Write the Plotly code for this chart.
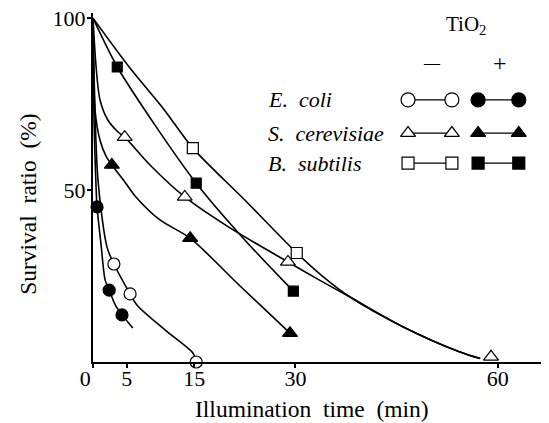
import plotly.graph_objects as go

# ---------------- data (time in min, survival ratio in %) ----------------
x_ticks = [0, 5, 15, 30, 60]
x_ticktext = ["0\u2002\u2009", "5", "15", "30", "60"]
y_ticks = [50, 100]

# measured points
ecoli_minus_t = [3.1, 5.5, 15.3]
ecoli_minus_s = [28.5, 19.8, 0.0]
ecoli_plus_t = [0.6, 2.4, 4.3]
ecoli_plus_s = [45.1, 20.9, 13.7]
scer_minus_t = [4.7, 13.6, 28.9, 59.0]
scer_minus_s = [65.4, 48.0, 29.1, 1.5]
scer_plus_t = [2.8, 14.4, 29.2]
scer_plus_s = [57.3, 36.0, 8.4]
bsub_minus_t = [14.8, 30.2]
bsub_minus_s = [62.2, 31.7]
bsub_plus_t = [3.6, 15.3, 29.7]
bsub_plus_s = [85.8, 52.0, 20.6]

# hand-drawn survival curves
ecoli_minus_curve_t = [0, 0.74, 2.08, 3.1, 5.5, 6.5, 10.7, 14.7, 15.3]
ecoli_minus_curve_s = [100, 52.9, 33.4, 28.5, 19.8, 16.6, 9.3, 2.9, 0.6]
ecoli_plus_curve_t = [0, 0.15, 0.44, 0.6, 1.2, 1.8, 2.4, 3.3, 4.3, 5.9]
ecoli_plus_curve_s = [100, 70.3, 51.5, 45.1, 34.0, 23.8, 20.9, 16.6, 13.7, 9.9]
scer_minus_curve_t = [0, 0.44, 1.04, 2.22, 3.71, 4.7, 8.45, 13.6, 20.3, 28.9, 33.5, 38.1, 46.0, 54.4, 57.4]
scer_minus_curve_s = [100, 86.3, 76.2, 70.3, 66.9, 65.4, 57.3, 48.0, 39.0, 29.1, 23.9, 18.9, 10.2, 2.9, 1.0]
scer_plus_curve_t = [0, 0.07, 0.30, 1.04, 1.93, 2.8, 4.74, 6.23, 9.93, 14.4, 21.8, 29.2]
scer_plus_curve_s = [100, 87.8, 73.3, 64.5, 59.9, 57.3, 52.3, 48.3, 41.3, 36.0, 22.1, 8.4]
bsub_minus_curve_t = [0, 5.48, 10.38, 14.8, 22.5, 30.2, 34.0, 38.1, 46.0, 54.4, 57.4]
bsub_minus_curve_s = [100, 85.5, 73.8, 62.2, 47.1, 31.7, 25.0, 18.9, 10.2, 2.9, 1.0]
bsub_plus_curve_t = [0, 3.6, 9.19, 15.3, 22.5, 29.7]
bsub_plus_curve_s = [100, 85.8, 68.9, 52.0, 35.5, 20.6]

species = ["E.  coli", "S.  cerevisiae", "B.  subtilis"]
legend_header = ["TiO<sub>2</sub>", "\u2014", "+"]

FONT = "Liberation Serif"
BLACK = "black"

fig = go.Figure()

curves = [
    (ecoli_minus_curve_t, ecoli_minus_curve_s),
    (ecoli_plus_curve_t, ecoli_plus_curve_s),
    (scer_minus_curve_t, scer_minus_curve_s),
    (scer_plus_curve_t, scer_plus_curve_s),
    (bsub_minus_curve_t, bsub_minus_curve_s),
    (bsub_plus_curve_t, bsub_plus_curve_s),
]
for t, s in curves:
    fig.add_trace(go.Scatter(x=t, y=s, mode="lines",
                             line=dict(color=BLACK, width=1.6, shape="spline", smoothing=0.8),
                             hoverinfo="skip", showlegend=False, cliponaxis=False))

markers = [
    (ecoli_minus_t, ecoli_minus_s, "circle", "white", 12),
    (ecoli_plus_t, ecoli_plus_s, "circle", BLACK, 12),
    (scer_minus_t, scer_minus_s, "triangle-up", "white", 13),
    (scer_plus_t, scer_plus_s, "triangle-up", BLACK, 13),
    (bsub_minus_t, bsub_minus_s, "square", "white", 11),
    (bsub_plus_t, bsub_plus_s, "square", BLACK, 10),
]
for t, s, sym, fill, size in markers:
    fig.add_trace(go.Scatter(x=t, y=s, mode="markers",
                             marker=dict(symbol=sym, color=fill, size=size,
                                         line=dict(color=BLACK, width=1.2)),
                             showlegend=False, cliponaxis=False))

# ---------------- legend (drawn on an invisible overlay axis, paper-like 0..1) ----------------
row_y = [0.751, 0.656, 0.570]
syms = ["circle", "triangle-up", "square"]
sizes = [14, 13, 12]
open_x = [0.697, 0.794]
fill_x = [0.852, 0.942]
for ry, sym, sz in zip(row_y, syms, sizes):
    for xs, fill in ((open_x, "white"), (fill_x, BLACK)):
        fig.add_trace(go.Scatter(x=xs, y=[ry, ry], xaxis="x2", yaxis="y2",
                                 mode="lines+markers",
                                 line=dict(color=BLACK, width=1.2),
                                 marker=dict(symbol=sym, size=sz, color=fill,
                                             line=dict(color=BLACK, width=1.2)),
                                 showlegend=False, cliponaxis=False, hoverinfo="skip"))

annotations = []
for name, ry in zip(species, row_y):
    annotations.append(dict(x=0.383, y=ry, xref="paper", yref="paper", text="<i>%s</i>" % name,
                            showarrow=False, xanchor="left", yanchor="middle",
                            font=dict(family=FONT, size=22, color=BLACK)))
annotations.append(dict(x=0.825, y=0.966, xref="paper", yref="paper", text=legend_header[0],
                        showarrow=False, xanchor="center", yanchor="middle",
                        font=dict(family=FONT, size=21, color=BLACK)))
annotations.append(dict(x=0.750, y=0.857, xref="paper", yref="paper", text=legend_header[1],
                        showarrow=False, xanchor="center", yanchor="middle",
                        font=dict(family=FONT, size=16, color=BLACK)))
annotations.append(dict(x=0.900, y=0.857, xref="paper", yref="paper", text=legend_header[2],
                        showarrow=False, xanchor="center", yanchor="middle",
                        font=dict(family=FONT, size=24, color=BLACK)))
# axis titles
annotations.append(dict(x=-0.144, y=0.453, xref="paper", yref="paper", text="Survival  ratio  (%)",
                        textangle=-90, showarrow=False, xanchor="center", yanchor="middle",
                        font=dict(family=FONT, size=23.5, color=BLACK)))
annotations.append(dict(x=0.485, y=-0.135, xref="paper", yref="paper", text="Illumination  time  (min)",
                        showarrow=False, xanchor="center", yanchor="middle",
                        font=dict(family=FONT, size=23.5, color=BLACK)))

# the page body adds an 8 px offset, so the margins are reduced by that amount
fig.update_layout(
    width=549, height=423,
    margin=dict(l=85, r=12, t=5, b=69, autoexpand=False),
    paper_bgcolor="white", plot_bgcolor="white",
    showlegend=False,
    font=dict(family=FONT, size=22, color=BLACK),
    xaxis=dict(range=[0, 67], tickvals=x_ticks, ticktext=x_ticktext,
               showline=True, linecolor=BLACK, linewidth=2, ticks="outside", ticklen=4,
               tickwidth=1.5, tickcolor=BLACK, showgrid=False, zeroline=False, automargin=False,
               ticklabelstandoff=-8, ticklabeloverflow="allow",
               tickfont=dict(family=FONT, size=22, color=BLACK)),
    yaxis=dict(range=[0, 101.5], tickvals=y_ticks, ticktext=[str(v) for v in y_ticks],
               showline=True, linecolor=BLACK, linewidth=2, ticks="outside", ticklen=4,
               tickwidth=1.5, tickcolor=BLACK, showgrid=False, zeroline=False, automargin=False,
               ticklabelstandoff=-3, ticklabeloverflow="allow",
               tickfont=dict(family=FONT, size=22, color=BLACK)),
    xaxis2=dict(range=[0, 1], overlaying="x", visible=False, fixedrange=True),
    yaxis2=dict(range=[0, 1], overlaying="y", visible=False, fixedrange=True),
    annotations=annotations,
)

fig.write_html("out.html")
